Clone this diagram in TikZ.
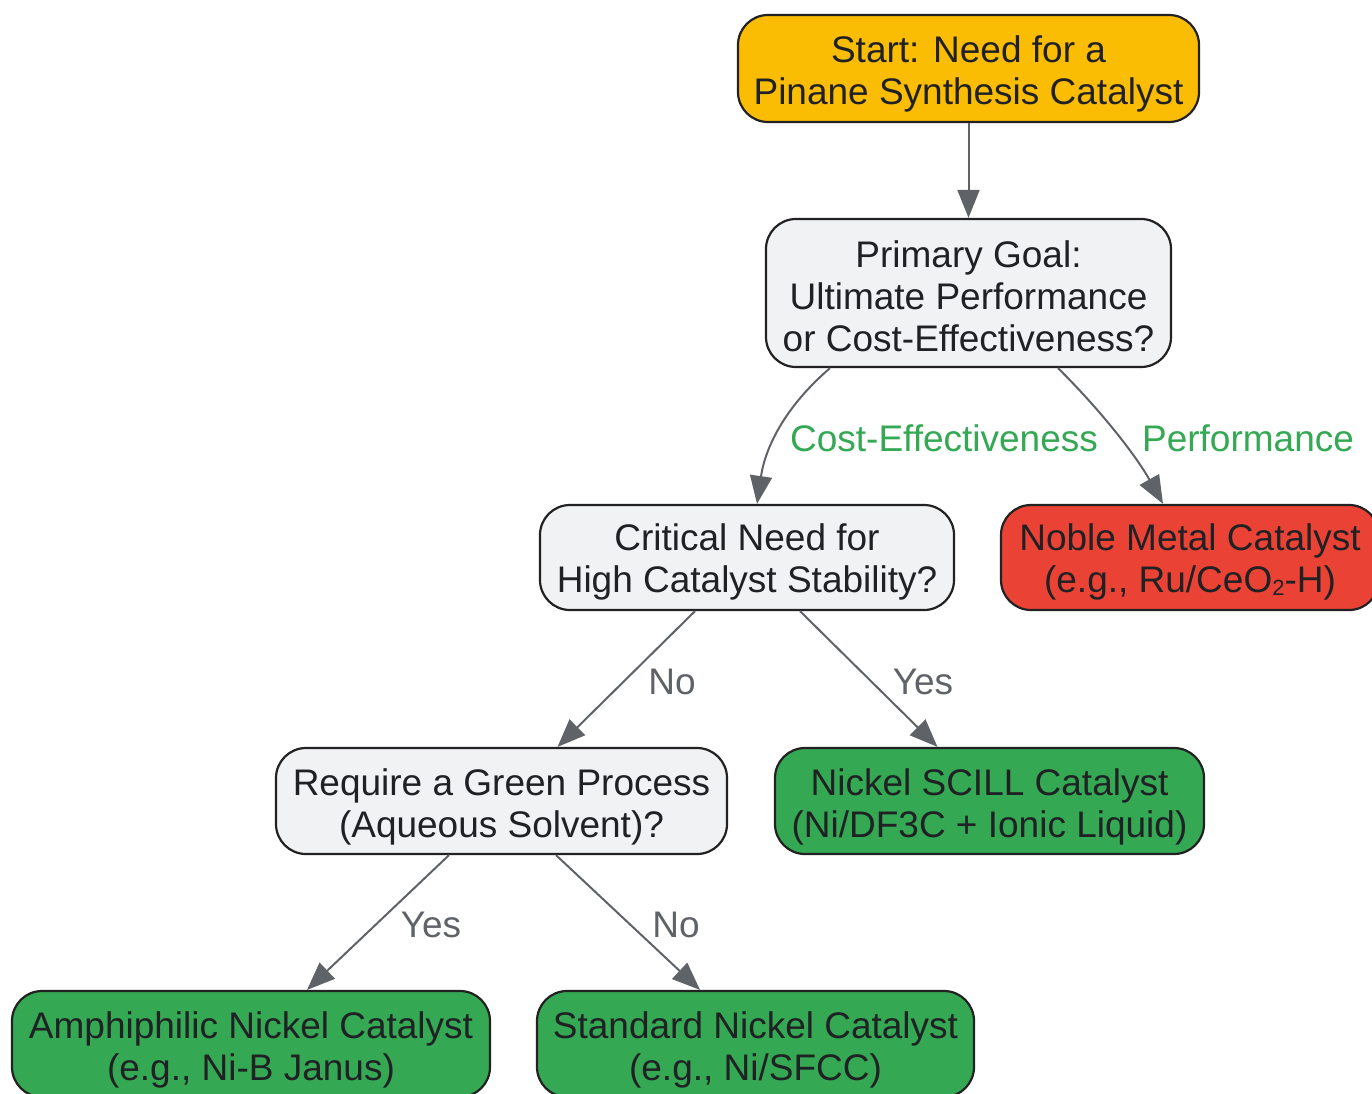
\documentclass[tikz,border=0pt]{standalone}
\usepackage{fontspec}
\setmainfont{Liberation Sans}
\usetikzlibrary{arrows.meta,calc}
\definecolor{cyellow}{HTML}{FBBC04}
\definecolor{cgray}{HTML}{F1F2F4}
\definecolor{cred}{HTML}{EA4335}
\definecolor{cgreen}{HTML}{34A853}
\definecolor{cedge}{HTML}{5F6368}
\definecolor{ctext}{HTML}{202124}
\definecolor{cborder}{HTML}{222222}
\newcommand{\subtwo}{\raisebox{-0.08em}{\fontsize{22}{22}\selectfont 2}}
\newcommand{\tx}[2][-6pt]{\raisebox{#1}[\height][\depth]{\begin{tabular}{@{}c@{}}#2\end{tabular}}}
\begin{document}
\begin{tikzpicture}[x=1pt,y=-1pt,
  box/.style={draw=cborder, line width=2.2pt, rounded corners=30pt, inner sep=0pt,
    text=ctext, font=\fontsize{37}{42}\selectfont},
  conn/.style={draw=cedge, line width=2pt, -{Triangle[length=28pt,width=22pt]}},
  elab/.style={text=cedge, font=\fontsize{37}{42}\selectfont, inner sep=0pt},
  glab/.style={text=cgreen, font=\fontsize{37}{42}\selectfont, fill=white, inner sep=2pt}
]
\useasboundingbox (0,0) rectangle (1372,1093);
\node[box, fill=cyellow, minimum width=461pt, minimum height=107pt] (start) at (968.5,68.5)
  {\tx[-7pt]{Start: Need for a\\Pinane Synthesis Catalyst}};
\node[box, fill=cgray, minimum width=405pt, minimum height=148pt] (prim) at (968.5,293)
  {\tx[-8pt]{Primary Goal:\\Ultimate Performance\\or Cost-Effectiveness?}};
\node[box, fill=cgray, minimum width=414pt, minimum height=105pt] (crit) at (747,557.5)
  {\tx{Critical Need for\\High Catalyst Stability?}};
\node[box, fill=cred, minimum width=378pt, minimum height=105pt] (noble) at (1190,557.5)
  {\tx{Noble Metal Catalyst\\(e.g., Ru/CeO\subtwo-H)}};
\node[box, fill=cgray, minimum width=451pt, minimum height=106pt] (req) at (501.5,801)
  {\tx[-7pt]{Require a Green Process\\(Aqueous Solvent)?}};
\node[box, fill=cgreen, minimum width=429pt, minimum height=106pt] (scill) at (989.5,801)
  {\tx[-7pt]{Nickel SCILL Catalyst\\(Ni/DF3C + Ionic Liquid)}};
\node[box, fill=cgreen, minimum width=478pt, minimum height=106pt] (amphi) at (251,1044)
  {\tx[-7pt]{Amphiphilic Nickel Catalyst\\(e.g., Ni-B Janus)}};
\node[box, fill=cgreen, minimum width=437pt, minimum height=106pt] (std) at (755.5,1044)
  {\tx[-7pt]{Standard Nickel Catalyst\\(e.g., Ni/SFCC)}};

\draw[conn] (start.south) -- (prim.north);
\draw[conn] ($(prim.south)+(-138.5,0)$) .. controls ($(prim.south)+(-185,40)$) and ($(crit.north)+(18,-55)$) .. ($(crit.north)+(10,0)$);
\draw[conn] ($(prim.south)+(89.5,0)$) .. controls ($(prim.south)+(130,40)$) and ($(noble.north)+(-55,-50)$) .. ($(noble.north)+(-27,0)$);
\draw[conn] ($(crit.south)+(-52,0)$) -- ($(req.north)+(56,0)$);
\draw[conn] ($(crit.south)+(53,0)$) -- ($(scill.north)+(-52,0)$);
\draw[conn] ($(req.south)+(-52.5,0)$) -- ($(amphi.north)+(56,0)$);
\draw[conn] ($(req.south)+(54.5,0)$) -- ($(std.north)+(-55.5,0)$);

\node[glab] (lcost) at (944,438) {Cost-Effectiveness};
\node[glab] (lperf) at (1248,438) {Performance};
\node[elab] (lno1) at (672,682) {No};
\node[elab] (lyes1) at (923,682) {Yes};
\node[elab] (lyes2) at (431,925) {Yes};
\node[elab] (lno2) at (676,925) {No};
\end{tikzpicture}
\end{document}
